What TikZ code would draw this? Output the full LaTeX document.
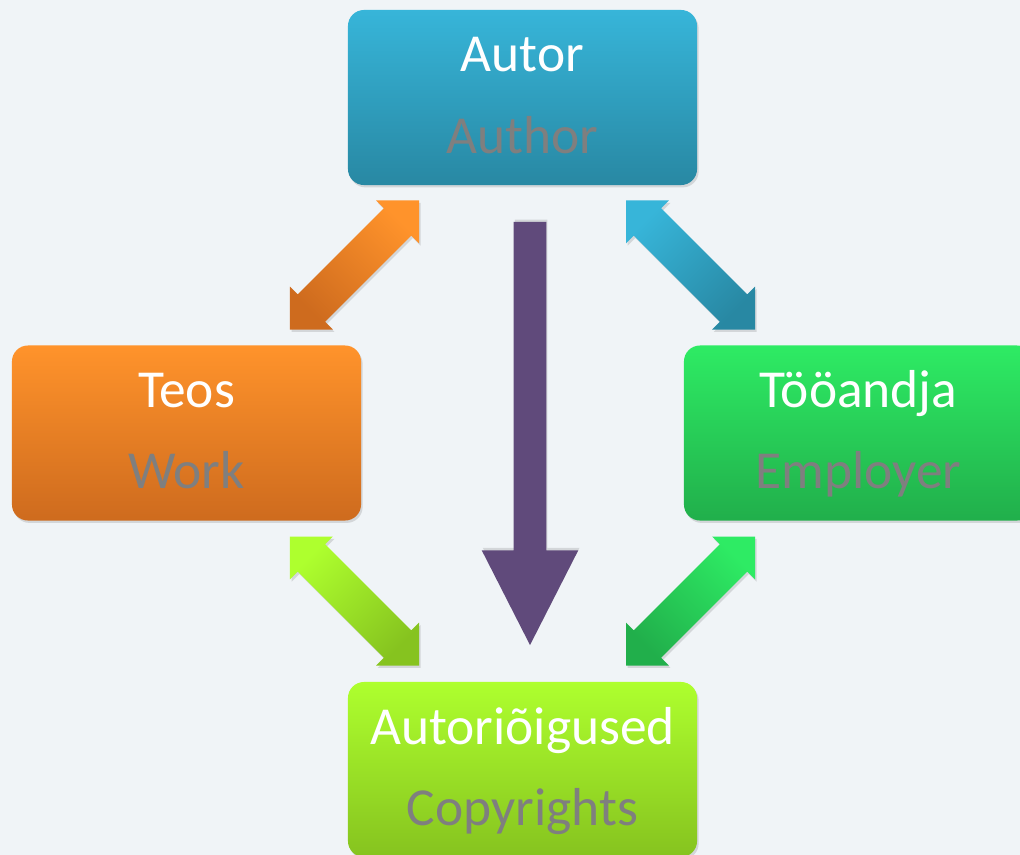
\documentclass[tikz,border=0pt]{standalone}
\usepackage{fontspec}
\setmainfont{Carlito}
\usetikzlibrary{shapes.arrows,shadows}
\definecolor{paper}{HTML}{F0F4F7}
\definecolor{subgray}{HTML}{7F7F7F}
\definecolor{blueT}{HTML}{37B5D9}
\definecolor{blueB}{HTML}{2888A3}
\definecolor{orangeT}{HTML}{FF932B}
\definecolor{orangeB}{HTML}{CE6B1E}
\definecolor{greenT}{HTML}{2EEB64}
\definecolor{greenB}{HTML}{21AF4B}
\definecolor{limeT}{HTML}{AEFF2E}
\definecolor{limeB}{HTML}{86C31F}
\definecolor{plum}{HTML}{604A7B}
\tikzset{
  box/.style={rounded corners=0.4cm, minimum width=8.725cm, minimum height=4.375cm, inner sep=0pt,
    drop shadow={opacity=0.25, shadow xshift=0.4mm, shadow yshift=-0.6mm}},
  title/.style={anchor=base, text=white, font=\fontsize{38}{46}\selectfont},
  sub/.style={anchor=base, text=subgray, font=\fontsize{38}{46}\selectfont},
  dbl/.style={double arrow, double arrow tip angle=90, double arrow head extend=0.275cm,
    minimum height=4.56cm, inner xsep=0pt, inner ysep=0.475cm,
    drop shadow={opacity=0.25, shadow xshift=0.4mm, shadow yshift=-0.6mm}}
}
\begin{document}
\begin{tikzpicture}[x=0.025cm, y=-0.025cm]
\fill[paper] (0,0) rectangle (1020,855);
\useasboundingbox (0,0) rectangle (1020,855);
\clip (0,0) rectangle (1020,855);

% boxes
\node[box, top color=blueT, bottom color=blueB] (autor) at (522.5,97.5) {};
\node[box, top color=orangeT, bottom color=orangeB] (teos) at (186.5,433) {};
\node[box, top color=greenT, bottom color=greenB] (andja) at (858.5,433) {};
\node[box, top color=limeT, bottom color=limeB] (oigus) at (522.5,769.5) {};

\node[title] (autorT) at ([yshift=0.6375cm]autor.center) {Autor};
\node[sub] (autorS) at ([yshift=-1.3875cm]autor.center) {Author};
\node[title] (teosT) at ([yshift=0.6375cm]teos.center) {Teos};
\node[sub] (teosS) at ([yshift=-1.3875cm]teos.center) {Work};
\node[title] (andjaT) at ([yshift=0.6375cm]andja.center) {Tööandja};
\node[sub] (andjaS) at ([yshift=-1.3875cm]andja.center) {Employer};
\node[title] (oigusT) at ([yshift=0.6375cm]oigus.center) {Autoriõigused};
\node[sub] (oigusS) at ([yshift=-1.3875cm]oigus.center) {Copyrights};

% arrows
\node[dbl, rotate=45, top color=orangeT, bottom color=orangeB, shading angle=-45] (a1) at (354.5,265) {};
\node[dbl, rotate=-45, top color=blueT, bottom color=blueB, shading angle=45] (a2) at (690.5,265) {};
\node[dbl, rotate=-45, top color=limeT, bottom color=limeB, shading angle=45] (a3) at (354.5,601) {};
\node[dbl, rotate=45, top color=greenT, bottom color=greenB, shading angle=-45] (a4) at (690.5,601) {};

\node[single arrow, rotate=-90, fill=plum, single arrow tip angle=54,
  single arrow head extend=0.8cm, minimum height=10.575cm, inner xsep=0pt, inner ysep=0.4cm,
  drop shadow={opacity=0.25, shadow xshift=0.3mm, shadow yshift=0.6mm}] (down) at (530,417.5) {};
\end{tikzpicture}
\end{document}
